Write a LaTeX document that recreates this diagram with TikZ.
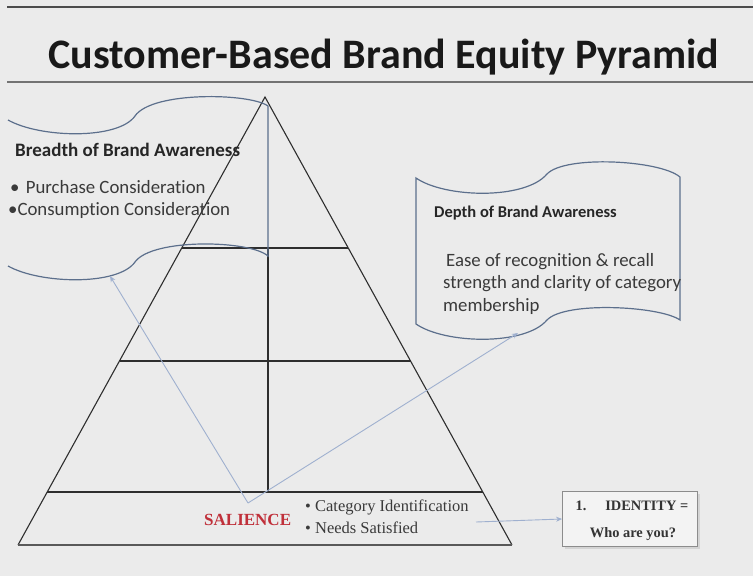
\documentclass[tikz,border=0pt]{standalone}
\usepackage{fontspec}
\setmainfont{Liberation Serif}
\newfontfamily\calib[Ligatures=NoCommon]{Carlito}
\usetikzlibrary{arrows.meta,shadows}
\definecolor{bg}{HTML}{EBEBEB}
\definecolor{edge}{HTML}{2E2E2E}
\definecolor{scrollc}{HTML}{5C6F8C}
\definecolor{linkc}{HTML}{9FB0CF}
\definecolor{salred}{HTML}{C0303A}
\definecolor{txt}{HTML}{3A3A3A}
\tikzset{
  pyr/.style={draw=edge, line width=1.1pt},
  scroll/.style={draw=scrollc, line width=1.2pt},
  link/.style={draw=linkc, line width=0.9pt, -{Stealth[length=6pt,width=5pt]}},
  head/.style={font=\calib\bfseries\fontsize{19}{22}\selectfont, text=black!85, anchor=west, inner sep=0pt},
  dhead/.style={font=\calib\bfseries\fontsize{16.5}{20}\selectfont, text=black!85, anchor=west, inner sep=0pt},
  body/.style={font=\calib\fontsize{18.8}{22}\selectfont, text=txt, anchor=west, inner sep=0pt},
  sbody/.style={font=\fontsize{16.5}{20}\selectfont, text=txt, anchor=west, inner sep=0pt},
  idtext/.style={font=\bfseries\fontsize{14.4}{16}\selectfont, text=black!80},
  idbox/.style={draw=black!45, line width=0.8pt, fill=bg!60!white, minimum width=135pt, minimum height=55pt,
    drop shadow={shadow xshift=2pt, shadow yshift=-2pt, fill=black!25}}
}
\begin{document}
\begin{tikzpicture}[x=1pt,y=-1pt]
\useasboundingbox[fill=bg] (0,0) rectangle (753,576);

% title bar
\draw[black!70, line width=1.6pt] (7,7) -- (753,7);
\draw[black!55, line width=1.6pt] (7,82) -- (753,82);
\node[font=\calib\bfseries\fontsize{42}{46}\selectfont, text=black!90] (title) at (384,57) {Customer-Based Brand Equity Pyramid};

% pyramid
\coordinate (apex) at (265,97);
\coordinate (bl) at (18,545);
\coordinate (br) at (512,545);
\draw[pyr] (bl) -- (apex) -- (br);
\draw[pyr, line width=1.5pt, draw=black!65] (bl) -- (br);
\draw[pyr] (181.8,248) -- (348.2,248);
\draw[pyr] (119.5,361) -- (410.5,361);
\draw[pyr] (47.3,492) -- (482.7,492);
\draw[pyr] (268,248) -- (268,492);

% breadth scroll
\draw[scroll] (8,120) .. controls (40,138) and (118,140) .. (135,116)
  .. controls (152,91) and (250,93) .. (268,106) -- (268,257);
\draw[scroll] (8,266) .. controls (40,284) and (118,286) .. (135,262)
  .. controls (152,238) and (250,240) .. (268,256);

% depth scroll
\draw[scroll] (680,320) .. controls (660,306) and (565,301) .. (547,320)
  .. controls (525,346) and (445,344) .. (416,324) -- (416,178)
  .. controls (445,198) and (525,200) .. (547,174)
  .. controls (565,155) and (660,160) .. (680,177) -- cycle;

% scroll texts
\node[head] (bh) at (15,150) {Breadth of Brand Awareness};
\node[body] (b1) at (10,187) {•\,\,Purchase Consideration};
\node[body] (b2) at (8,210) {•Consumption Consideration};
\node[dhead] (dh) at (434,213) {Depth of Brand Awareness};
\node[body] (d1) at (446,262) {Ease of recognition \& recall};
\node[body] (d2) at (443,284) {strength and clarity of category};
\node[body] (d3) at (443,306) {membership};

% salience level
\coordinate (sal) at (248,503);
\coordinate (btip) at (110,276);
\coordinate (dtip) at (518,333);
\draw[link] (sal) -- (btip);
\draw[link] (sal) -- (dtip);
\node[font=\bfseries\fontsize{17}{19}\selectfont, text=salred, anchor=west, inner sep=0pt] (salience) at (204,520) {SALIENCE};
\node[sbody] (s1) at (305,507) {• Category Identification};
\node[sbody] (s2) at (305,528) {• Needs Satisfied};

% identity box
\node[idbox] (id) at (630,519) {};
\node[idtext] (id1) at (632,506) {1.\hspace{1.3em}IDENTITY =};
\node[idtext] (id2) at (633,534) {Who are you?};
\coordinate (arrstart) at (476,522);
\draw[link] (arrstart) -- (id.west);
\end{tikzpicture}
\end{document}
